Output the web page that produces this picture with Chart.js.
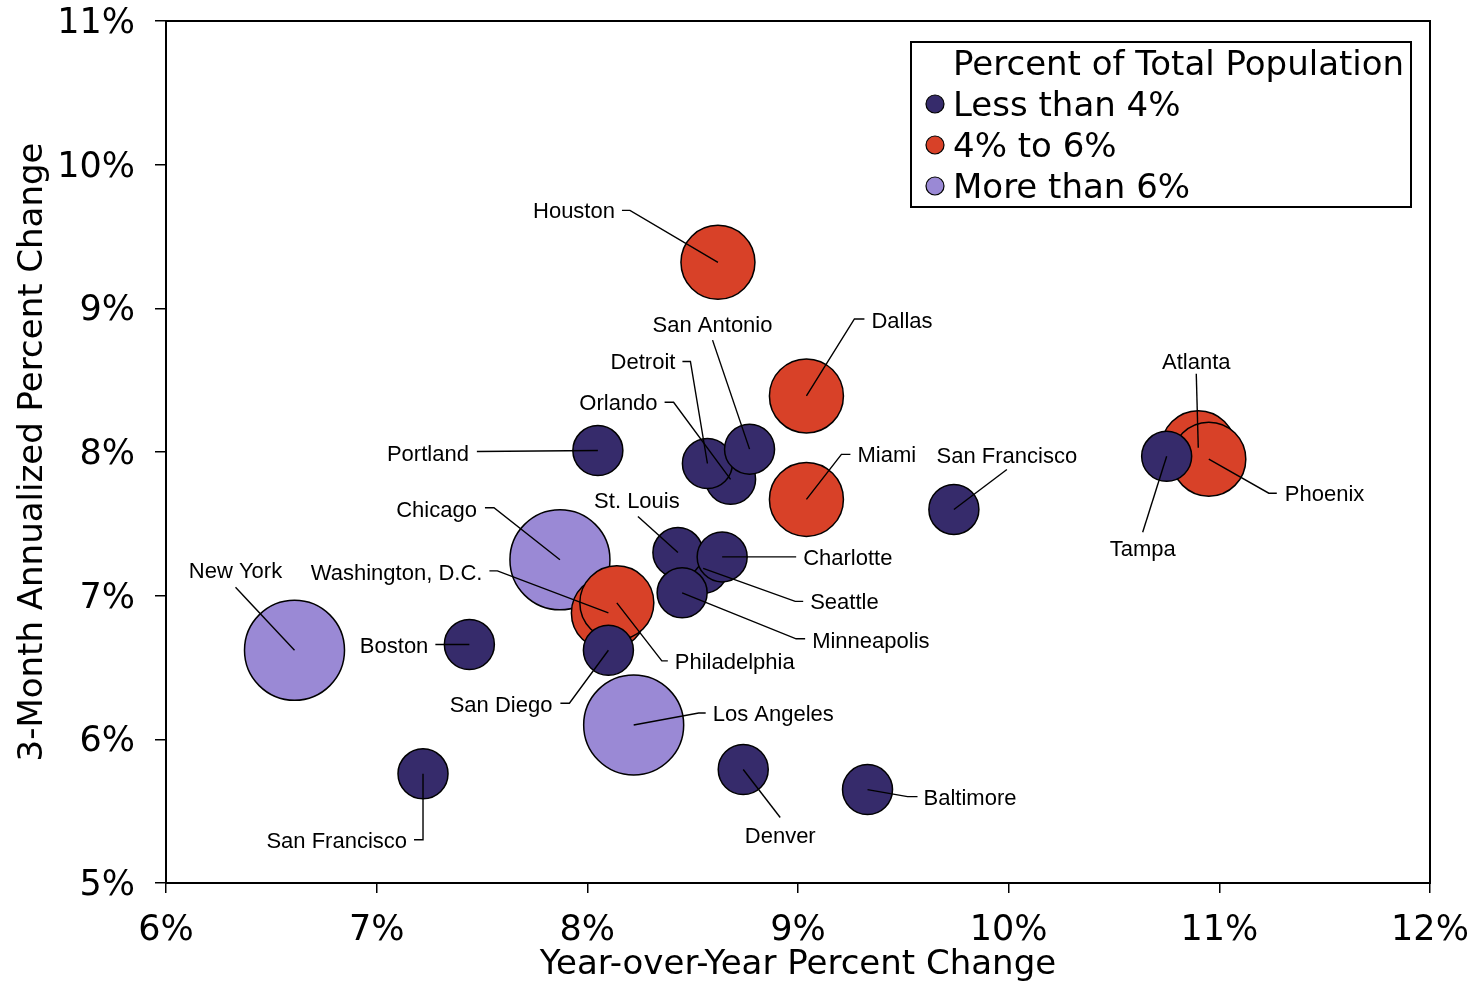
<!DOCTYPE html>
<html>
<head>
<meta charset="utf-8">
<script src="https://cdn.jsdelivr.net/npm/chart.js@4.4.1/dist/chart.umd.min.js"></script>
<style>
  body { margin: 0; background: #fff; }
  #wrap { width: 1474px; height: 982px; }
</style>
</head>
<body>
<div id="wrap"><canvas id="chart" width="1474" height="982"></canvas></div>
<script>
// Data
const cities = [
    "Portland", "Orlando", "Detroit", "San Antonio", "San Francisco", "Tampa",
    "Seattle", "St. Louis", "Charlotte", "Minneapolis", "San Diego", "Boston",
    "San Francisco", "Denver", "Baltimore",
    "Houston", "Dallas", "Miami", "Washington, D.C.", "Philadelphia", "Atlanta", "Phoenix",
    "Chicago", "Los Angeles", "New York"
];
// year-over-year percent change (x)
const yoyChange = [
    8.05, 8.68, 8.57, 8.77, 9.74, 10.75,
    8.55, 8.43, 8.64, 8.45, 8.10, 7.44,
    7.22, 8.74, 9.33,
    8.62, 9.04, 9.04, 8.10, 8.14, 10.90, 10.95,
    7.87, 8.22, 6.61
];
// 3-month annualized percent change (y)
const annualized3m = [
    8.01, 7.81, 7.92, 8.02, 7.60, 7.97,
    7.19, 7.30, 7.27, 7.02, 6.62, 6.66,
    5.76, 5.79, 5.65,
    9.32, 8.39, 7.67, 6.88, 6.95, 8.03, 7.95,
    7.25, 6.10, 6.62
];
// population share group: 0 = less than 4%, 1 = 4% to 6%, 2 = more than 6%
const popGroup = [
    0, 0, 0, 0, 0, 0,
    0, 0, 0, 0, 0, 0,
    0, 0, 0,
    1, 1, 1, 1, 1, 1, 1,
    2, 2, 2
];
const groupLabels = ["Less than 4%", "4% to 6%", "More than 6%"];
const groupColors = ["#362b6b", "#d84128", "#9a89d5"];
const groupRadius = [25, 37, 50];

// label placement: text offset from bubble centre (px) and leader path
// a = text align, t = [dx, dy] of text, p = leader points before the centre
const labelLayout = [
    { a: "right", t: [-129, 2], p: [[-121, 1]] },            // Portland
    { a: "right", t: [-73, -77], p: [[-66, -77], [-57, -77]] }, // Orlando
    { a: "right", t: [-32, -103], p: [[-25, -102], [-17, -102]] }, // Detroit
    { a: "center", t: [-37, -125], p: [[-37, -109]] },        // San Antonio
    { a: "center", t: [53, -55], p: [[53, -40]] },            // San Francisco
    { a: "center", t: [-24, 92], p: [[-24, 76]] },            // Tampa
    { a: "left", t: [107, 33], p: [[100, 33], [92, 33]] },    // Seattle
    { a: "center", t: [-41, -53], p: [[-40, -36]] },          // St. Louis
    { a: "left", t: [81, 0], p: [[74, 0]] },                  // Charlotte
    { a: "left", t: [130, 47], p: [[123, 46], [114, 46]] },   // Minneapolis
    { a: "right", t: [-56, 54], p: [[-48, 53], [-39, 53]] },  // San Diego
    { a: "right", t: [-41, 0], p: [[-34, 0]] },               // Boston
    { a: "right", t: [-16, 66], p: [[-9, 66], [0, 66]] },     // San Francisco
    { a: "center", t: [37, 65], p: [[37, 48]] },              // Denver
    { a: "left", t: [56, 7], p: [[50, 7], [40, 7]] },         // Baltimore
    { a: "right", t: [-103, -52], p: [[-96, -52], [-88, -52]] }, // Houston
    { a: "left", t: [65, -76], p: [[58, -77], [48, -77]] },   // Dallas
    { a: "left", t: [51, -45], p: [[44, -45], [35, -45]] },   // Miami
    { a: "right", t: [-126, -41], p: [[-119, -42], [-111, -42]] }, // Washington
    { a: "left", t: [58, 58], p: [[51, 58], [45, 58]] },      // Philadelphia
    { a: "center", t: [-2, -87], p: [[-2, -74]] },            // Atlanta
    { a: "left", t: [76, 34], p: [[68, 34], [60, 34]] },      // Phoenix
    { a: "right", t: [-83, -51], p: [[-75, -52], [-66, -52]] }, // Chicago
    { a: "left", t: [79, -12], p: [[72, -12], [65, -12]] },   // Los Angeles
    { a: "center", t: [-59, -80], p: [[-59, -63]] }           // New York
];

const AXIS_FONT = "DejaVu Sans";
const LABEL_FONT = "'Liberation Sans', Arial, sans-serif";

const datasets = groupLabels.map((label, g) => ({
    label: label,
    data: cities
        .map((c, i) => ({ x: yoyChange[i], y: annualized3m[i], idx: i }))
        .filter(d => popGroup[d.idx] === g),
    backgroundColor: groupColors[g],
    borderColor: "#000",
    borderWidth: 1.5,
    radius: groupRadius[g],
    hoverRadius: 0
}));

// city labels and leader lines
const cityLabels = {
    id: "cityLabels",
    afterDatasetsDraw(chart) {
        const ctx = chart.ctx;
        ctx.save();
        ctx.strokeStyle = "#000";
        ctx.lineWidth = 1.4;
        ctx.fillStyle = "#000";
        ctx.font = "22px " + LABEL_FONT;
        ctx.textBaseline = "middle";
        chart.data.datasets.forEach((ds, di) => {
            const meta = chart.getDatasetMeta(di);
            meta.data.forEach((el, j) => {
                const i = ds.data[j].idx;
                const lay = labelLayout[i];
                ctx.beginPath();
                ctx.moveTo(el.x + lay.p[0][0], el.y + lay.p[0][1]);
                for (let k = 1; k < lay.p.length; k++) {
                    ctx.lineTo(el.x + lay.p[k][0], el.y + lay.p[k][1]);
                }
                ctx.lineTo(el.x, el.y);
                ctx.stroke();
                ctx.textAlign = lay.a;
                ctx.fillText(cities[i], el.x + lay.t[0], el.y + lay.t[1] + 2);
            });
        });
        ctx.restore();
    }
};

// plot frame and legend box inside the plot area
const frameAndLegend = {
    id: "frameAndLegend",
    afterDraw(chart) {
        const ctx = chart.ctx;
        const a = chart.chartArea;
        ctx.save();
        ctx.strokeStyle = "#000";
        ctx.lineWidth = 2;
        ctx.strokeRect(a.left, a.top, a.right - a.left, a.bottom - a.top);

        const bx = a.right - 519, by = a.top + 21, bw = 500, bh = 165;
        ctx.fillStyle = "#fff";
        ctx.fillRect(bx, by, bw, bh);
        ctx.strokeRect(bx, by, bw, bh);
        ctx.fillStyle = "#000";
        ctx.font = "34px " + AXIS_FONT;
        ctx.textBaseline = "middle";
        ctx.textAlign = "left";
        ctx.fillText("Percent of Total Population", bx + 42, by + 24);
        chart.data.datasets.forEach((ds, g) => {
            const cy = by + 62 + g * 41;
            ctx.beginPath();
            ctx.arc(bx + 24, cy, 9, 0, Math.PI * 2);
            ctx.fillStyle = ds.backgroundColor;
            ctx.fill();
            ctx.lineWidth = 1.2;
            ctx.stroke();
            ctx.fillStyle = "#000";
            ctx.fillText(ds.label, bx + 42, cy + 3);
        });
        ctx.restore();
    }
};

const tickFont = { family: AXIS_FONT, size: 35 };

// keep the plot box where the reference has it: no extra room for edge labels
function noEdgePadding(s) {
    s.paddingTop = 0;
    s.paddingBottom = 0;
    s.paddingLeft = 0;
    s.paddingRight = 0;
}

new Chart(document.getElementById("chart"), {
    type: "bubble",
    data: { datasets: datasets },
    options: {
        responsive: false,
        animation: false,
        events: [],
        layout: { autoPadding: false, padding: { top: 21, right: 44, left: 0, bottom: 0 } },
        plugins: {
            legend: { display: false },
            tooltip: { enabled: false }
        },
        scales: {
            x: {
                type: "linear",
                min: 6, max: 12,
                ticks: {
                    stepSize: 1,
                    color: "#000",
                    font: tickFont,
                    padding: 17,
                    maxRotation: 0,
                    callback: v => v + "%"
                },
                grid: { drawOnChartArea: false, tickLength: 10, color: "#000", lineWidth: 1.5 },
                border: { color: "#000", width: 2 },
                title: {
                    display: true,
                    text: "Year-over-Year Percent Change",
                    color: "#000",
                    font: { family: AXIS_FONT, size: 34, lineHeight: 1 },
                    padding: { top: 0, bottom: 0 }
                },
                afterFit: s => { s.height = 99; noEdgePadding(s); }
            },
            y: {
                type: "linear",
                min: 5, max: 11,
                ticks: {
                    stepSize: 1,
                    color: "#000",
                    font: tickFont,
                    padding: 20,
                    labelOffset: 3,
                    callback: v => v + "%"
                },
                grid: { drawOnChartArea: false, tickLength: 11, color: "#000", lineWidth: 1.5 },
                border: { color: "#000", width: 2 },
                title: {
                    display: true,
                    text: "3-Month Annualized Percent Change",
                    color: "#000",
                    font: { family: AXIS_FONT, size: 34, lineHeight: 1 },
                    padding: { top: 16, bottom: 0 }
                },
                afterFit: s => { s.width = 166; noEdgePadding(s); }
            }
        }
    },
    plugins: [cityLabels, frameAndLegend]
});
</script>
</body>
</html>
